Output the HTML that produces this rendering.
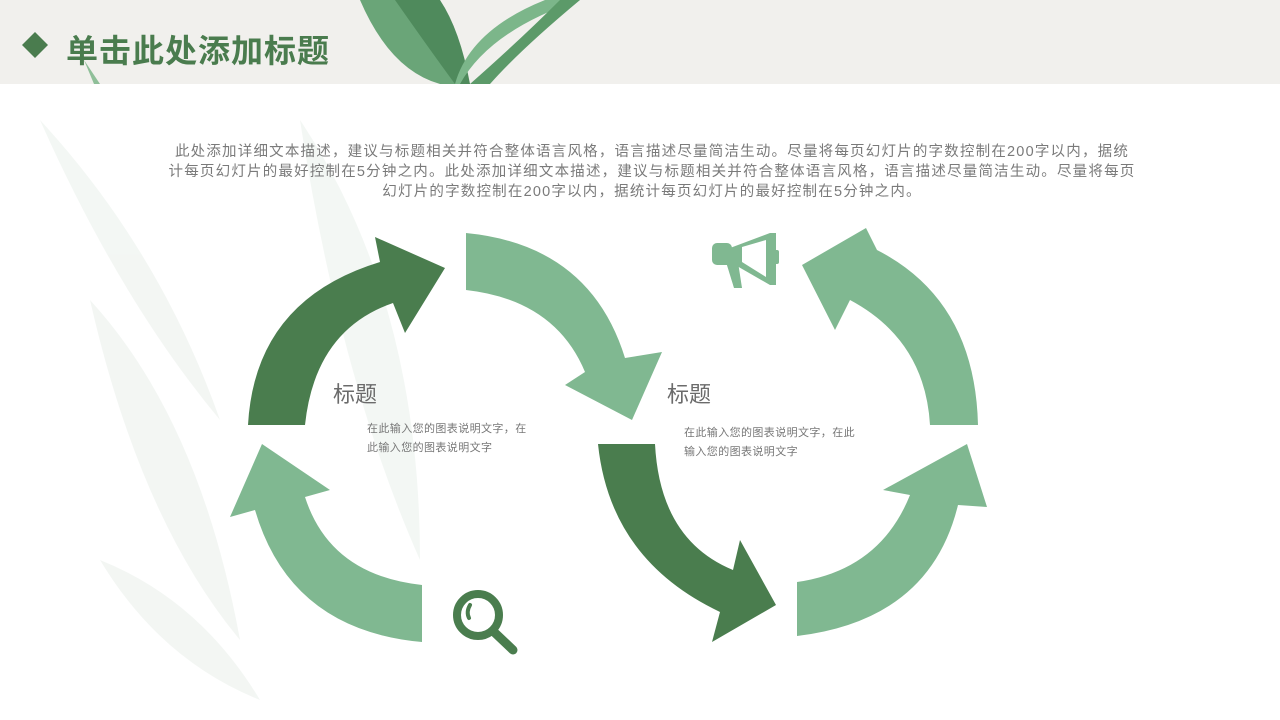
<!DOCTYPE html>
<html><head><meta charset="utf-8"><style>
html,body{margin:0;padding:0;}
body{width:1280px;height:720px;position:relative;overflow:hidden;background:#fff;font-family:"Liberation Sans","Noto Sans CJK SC",sans-serif;}
.hdr{position:absolute;left:0;top:0;width:1280px;height:84px;background:#f1f0ed;}
.t{position:absolute;white-space:nowrap;}
.p{left:12px;width:1280px;text-align:center;font-size:14.5px;color:#7a7a7a;line-height:20px;letter-spacing:1.2px;}
</style></head><body>
<div class="hdr"></div>
<svg width="1280" height="720" style="position:absolute;left:0;top:0">
  <g fill="#eef3ef" opacity="0.7">
    <path d="M40,120 Q160,250 220,420 Q120,300 40,120Z"/>
    <path d="M90,300 Q200,420 240,640 Q140,520 90,300Z"/>
    <path d="M300,120 Q420,300 420,560 Q340,380 300,120Z"/>
    <path d="M100,560 Q200,600 260,700 Q160,660 100,560Z"/>
  </g>
  <path d="M360,0 Q390,70 440,84 L470,84 Q450,30 420,0Z" fill="#6aa578"/>
  <path d="M395,0 Q430,50 455,84 L470,84 Q460,30 440,0Z" fill="#4f8a5c"/>
  <path d="M460,84 Q490,30 580,0 L545,0 Q470,30 455,84Z" fill="#7cb68a"/>
  <path d="M470,84 Q520,40 560,0 L580,0 Q520,50 490,84Z" fill="#5c9a69"/>
  <path d="M84,60 L100,84 L94,84Z" fill="#8fbf99"/>
  <path d="M35,32 L48,45 L35,58 L22,45Z" fill="#4a7c4e"/>
  <path d="M248,425 Q255,300 380,262 L375,237 L445,268 L405,333 L393,303 Q315,330 305,425Z" fill="#4a7d4e"/>
  <path d="M466,233 Q590,245 625,358 L662,352 L632,420 L565,385 L585,372 Q555,300 466,290Z" fill="#80b891"/>
  <path d="M422,642 Q290,630 255,510 L230,517 L262,444 L330,490 L305,497 Q330,575 422,585Z" fill="#80b891"/>
  <path d="M598,444 L655,444 Q660,540 733,570 L740,540 L776,605 L712,642 L720,612 Q610,560 598,444Z" fill="#4a7d4e"/>
  <path d="M797,636 Q930,620 958,505 L987,507 L967,444 L883,490 L910,495 Q880,570 797,582Z" fill="#80b891"/>
  <path d="M978,425 Q975,300 877,250 L866,228 L802,265 L835,330 L850,300 Q925,340 930,425Z" fill="#80b891"/>
  <g fill="#80b891">
    <rect x="712" y="243" width="20" height="22" rx="5"/>
    <path d="M730,248 L770,233 L776,233 L776,285 L770,285 L730,262Z"/>
    <rect x="774" y="250" width="5" height="14" rx="2"/>
    <path d="M726,262 L738,262 L742,288 L734,288Z"/>
  </g>
  <path d="M742,247 L766,240 L766,277 L742,262Z" fill="#fff"/>
  <circle cx="478" cy="615" r="21" fill="none" stroke="#4a7d4e" stroke-width="8"/>
  <path d="M470,605 Q466,612 469,618" stroke="#4a7d4e" stroke-width="4" fill="none" stroke-linecap="round"/>
  <line x1="493" y1="631" x2="513" y2="650" stroke="#4a7d4e" stroke-width="9" stroke-linecap="round"/>
</svg>
<div class="t" style="left:66px;top:26px;font-size:32px;font-weight:bold;color:#4a7c4e;letter-spacing:1px;">单击此处添加标题</div>
<div class="t p" style="top:142px">此处添加详细文本描述，建议与标题相关并符合整体语言风格，语言描述尽量简洁生动。尽量将每页幻灯片的字数控制在200字以内，据统</div>
<div class="t p" style="top:162px">计每页幻灯片的最好控制在5分钟之内。此处添加详细文本描述，建议与标题相关并符合整体语言风格，语言描述尽量简洁生动。尽量将每页</div>
<div class="t p" style="top:182px">幻灯片的字数控制在200字以内，据统计每页幻灯片的最好控制在5分钟之内。</div>
<div class="t" style="left:333px;top:377px;font-size:22px;color:#6b6b6b;">标题</div>
<div class="t" style="left:667px;top:377px;font-size:22px;color:#6b6b6b;">标题</div>
<div class="t" style="left:367px;top:420px;font-size:11px;line-height:19px;color:#777;letter-spacing:0.4px;">在此输入您的图表说明文字，在<br>此输入您的图表说明文字</div>
<div class="t" style="left:684px;top:424px;font-size:11px;line-height:19px;color:#777;letter-spacing:0.4px;">在此输入您的图表说明文字，在此<br>输入您的图表说明文字</div>
</body></html>
